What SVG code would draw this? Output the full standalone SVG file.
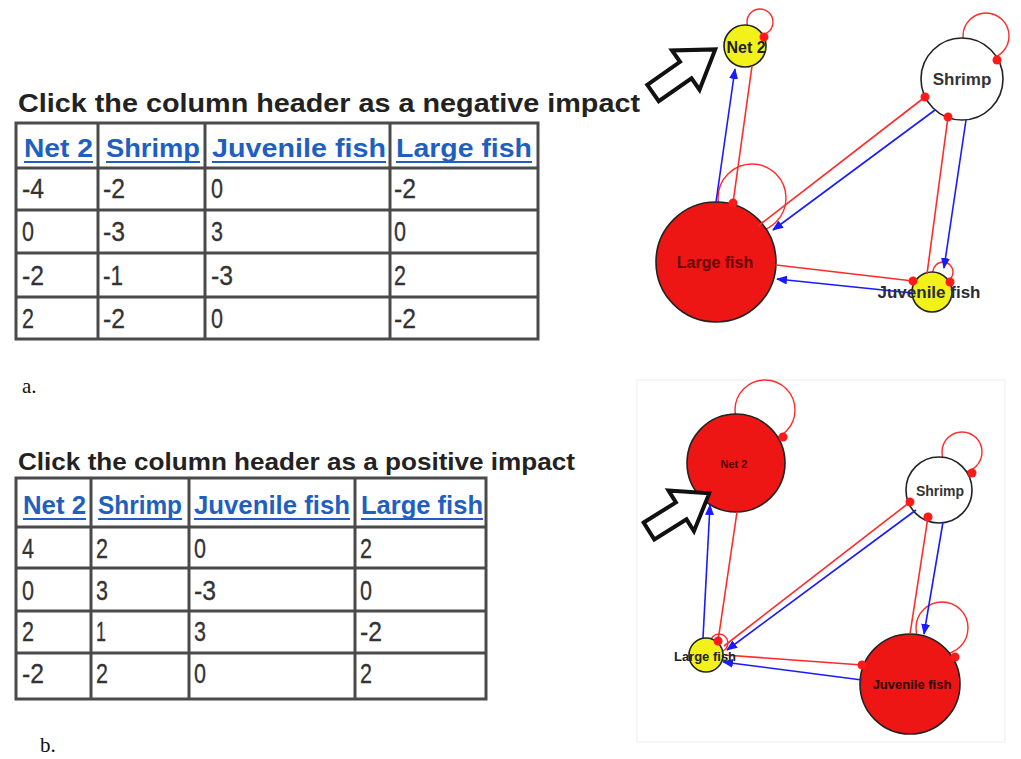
<svg xmlns="http://www.w3.org/2000/svg" width="1021" height="759" viewBox="0 0 1021 759">
<style>
.title{font-family:"Liberation Sans",Arial,sans-serif;font-weight:bold;fill:#222}
.hdr{font-family:"Liberation Sans",Arial,sans-serif;font-weight:bold;fill:#1f5fbf;font-size:25px}
.ul{stroke:#1f5fbf;stroke-width:2}
.cell{font-family:"Liberation Sans",Arial,sans-serif;fill:#333;font-size:27px;stroke:#333;stroke-width:0.3}
.grid{stroke:#4a4a4a;stroke-width:3;fill:none}
.cap{font-family:"Liberation Serif","Times New Roman",serif;font-size:21px;fill:#111}
.node{stroke:#222;stroke-width:1.6}
.loop{fill:none;stroke:#ff2a2a;stroke-width:1.4}
.pos{stroke:#1a1aff;stroke-width:1.6;fill:none;marker-end:url(#arr)}
.neg{stroke:#ff2a2a;stroke-width:1.6;fill:none;marker-end:url(#dot)}
.lbl{font-family:"Liberation Sans",Arial,sans-serif;font-weight:bold;text-anchor:middle;dominant-baseline:central}
.bigarrow{fill:#fff;stroke:#111;stroke-width:4;stroke-linejoin:miter}
.rdot{fill:#ff1a1a}
</style>
<defs>
<marker id="arr" markerUnits="userSpaceOnUse" markerWidth="11" markerHeight="9" refX="10" refY="4.5" orient="auto"><path d="M0,0 L11,4.5 L0,9 z" fill="#1a1aff"/></marker>
<marker id="dot" markerUnits="userSpaceOnUse" markerWidth="10" markerHeight="10" refX="5" refY="5" orient="auto"><circle cx="5" cy="5" r="4.5" fill="#ff1a1a"/></marker>
</defs>
<rect width="1021" height="759" fill="#fff"/>

<!-- Top table -->
<g id="table-a">
<text class="title" x="18" y="112" font-size="26" textLength="622" lengthAdjust="spacingAndGlyphs">Click the column header as a negative impact</text>
<rect class="grid" x="16" y="123" width="522" height="216"/>
<path class="grid" d="M98,123V339 M205,123V339 M390,123V339 M16,168H538 M16,210H538 M16,253H538 M16,297H538"/>
<text class="hdr" x="24" y="157" textLength="69" lengthAdjust="spacingAndGlyphs">Net 2</text>
<text class="hdr" x="106" y="157" textLength="94" lengthAdjust="spacingAndGlyphs">Shrimp</text>
<text class="hdr" x="212" y="157" textLength="174" lengthAdjust="spacingAndGlyphs">Juvenile fish</text>
<text class="hdr" x="396" y="157" textLength="136" lengthAdjust="spacingAndGlyphs">Large fish</text>
<path class="ul" d="M24,162H93 M106,162H200 M212,162H386 M396,162H532"/>
<text class="cell" x="22" y="198" textLength="22" lengthAdjust="spacingAndGlyphs">-4</text><text class="cell" x="103" y="198" textLength="22" lengthAdjust="spacingAndGlyphs">-2</text><text class="cell" x="211" y="198" textLength="12" lengthAdjust="spacingAndGlyphs">0</text><text class="cell" x="394" y="198" textLength="22" lengthAdjust="spacingAndGlyphs">-2</text>
<text class="cell" x="22" y="241" textLength="12" lengthAdjust="spacingAndGlyphs">0</text><text class="cell" x="103" y="241" textLength="22" lengthAdjust="spacingAndGlyphs">-3</text><text class="cell" x="211" y="241" textLength="12" lengthAdjust="spacingAndGlyphs">3</text><text class="cell" x="394" y="241" textLength="12" lengthAdjust="spacingAndGlyphs">0</text>
<text class="cell" x="22" y="285" textLength="22" lengthAdjust="spacingAndGlyphs">-2</text><text class="cell" x="103" y="285" textLength="20" lengthAdjust="spacingAndGlyphs">-1</text><text class="cell" x="211" y="285" textLength="22" lengthAdjust="spacingAndGlyphs">-3</text><text class="cell" x="394" y="285" textLength="12" lengthAdjust="spacingAndGlyphs">2</text>
<text class="cell" x="22" y="328" textLength="12" lengthAdjust="spacingAndGlyphs">2</text><text class="cell" x="103" y="328" textLength="22" lengthAdjust="spacingAndGlyphs">-2</text><text class="cell" x="211" y="328" textLength="12" lengthAdjust="spacingAndGlyphs">0</text><text class="cell" x="394" y="328" textLength="22" lengthAdjust="spacingAndGlyphs">-2</text>
</g>
<text class="cap" x="22" y="393">a.</text>

<!-- Bottom table -->
<g id="table-b">
<text class="title" x="18" y="470" font-size="24" textLength="557" lengthAdjust="spacingAndGlyphs">Click the column header as a positive impact</text>
<rect class="grid" x="16" y="478" width="470" height="221"/>
<path class="grid" d="M91,478V699 M189,478V699 M355,478V699 M16,527H486 M16,568H486 M16,611H486 M16,653H486"/>
<text class="hdr" x="23" y="514" textLength="63" lengthAdjust="spacingAndGlyphs">Net 2</text>
<text class="hdr" x="98" y="514" textLength="84" lengthAdjust="spacingAndGlyphs">Shrimp</text>
<text class="hdr" x="194" y="514" textLength="156" lengthAdjust="spacingAndGlyphs">Juvenile fish</text>
<text class="hdr" x="361" y="514" textLength="122" lengthAdjust="spacingAndGlyphs">Large fish</text>
<path class="ul" d="M23,519H86 M98,519H182 M194,519H350 M361,519H483"/>
<text class="cell" x="22" y="558" textLength="12" lengthAdjust="spacingAndGlyphs">4</text><text class="cell" x="96" y="558" textLength="12" lengthAdjust="spacingAndGlyphs">2</text><text class="cell" x="194" y="558" textLength="12" lengthAdjust="spacingAndGlyphs">0</text><text class="cell" x="360" y="558" textLength="12" lengthAdjust="spacingAndGlyphs">2</text>
<text class="cell" x="22" y="600" textLength="12" lengthAdjust="spacingAndGlyphs">0</text><text class="cell" x="96" y="600" textLength="12" lengthAdjust="spacingAndGlyphs">3</text><text class="cell" x="194" y="600" textLength="22" lengthAdjust="spacingAndGlyphs">-3</text><text class="cell" x="360" y="600" textLength="12" lengthAdjust="spacingAndGlyphs">0</text>
<text class="cell" x="22" y="641" textLength="12" lengthAdjust="spacingAndGlyphs">2</text><text class="cell" x="96" y="641" textLength="10" lengthAdjust="spacingAndGlyphs">1</text><text class="cell" x="194" y="641" textLength="12" lengthAdjust="spacingAndGlyphs">3</text><text class="cell" x="360" y="641" textLength="22" lengthAdjust="spacingAndGlyphs">-2</text>
<text class="cell" x="22" y="683" textLength="22" lengthAdjust="spacingAndGlyphs">-2</text><text class="cell" x="96" y="683" textLength="12" lengthAdjust="spacingAndGlyphs">2</text><text class="cell" x="194" y="683" textLength="12" lengthAdjust="spacingAndGlyphs">0</text><text class="cell" x="360" y="683" textLength="12" lengthAdjust="spacingAndGlyphs">2</text>
</g>
<text class="cap" x="40" y="752">b.</text>

<!-- Top graph -->
<g id="loops-a">
<circle class="loop" cx="760" cy="22" r="13"/>
<circle class="loop" cx="986" cy="36" r="23"/>
<circle class="loop" cx="752" cy="198" r="34"/>
<circle class="loop" cx="943" cy="272" r="10"/>
</g>
<g id="a-net2"><circle class="node" cx="745" cy="46" r="21" fill="#f2f21a"/></g>
<g id="a-shrimp"><circle class="node" cx="962" cy="79" r="41" fill="#fff"/></g>
<g id="a-largefish"><circle class="node" cx="716" cy="262" r="60" fill="#ee1515"/></g>
<g id="a-juvenile"><circle class="node" cx="932" cy="292" r="20" fill="#f2f21a"/></g>
<g id="connectors-a">
<line class="pos" x1="716" y1="202" x2="735" y2="69"/>
<line class="neg" x1="752" y1="66" x2="733" y2="203"/>
<line class="neg" x1="758" y1="226" x2="925" y2="97"/>
<line class="pos" x1="935" y1="110" x2="773" y2="230"/>
<line class="neg" x1="927" y1="274" x2="948" y2="117"/>
<line class="pos" x1="966" y1="120" x2="944" y2="268"/>
<line class="neg" x1="776" y1="265" x2="913" y2="281"/>
<line class="pos" x1="912" y1="293" x2="777" y2="279"/>
<circle class="rdot" cx="764" cy="37" r="4.5"/>
<circle class="rdot" cx="997" cy="60" r="4.5"/>
<circle class="rdot" cx="950" cy="282" r="4.5"/>
</g>
<text class="lbl" x="746" y="47" font-size="16" fill="#222">Net 2</text>
<text class="lbl" x="962" y="79" font-size="17" fill="#333">Shrimp</text>
<text class="lbl" x="715" y="262" font-size="16" fill="#6a0000">Large fish</text>
<text class="lbl" x="929" y="292" font-size="17" fill="#2a2a3a">Juvenile fish</text>
<polygon class="bigarrow" transform="translate(653,93) rotate(-35)" points="0,-10 40,-10 40,-24 76,0 40,24 40,10 0,10"/>

<!-- Bottom graph -->
<rect x="637" y="380" width="368" height="362" fill="none" stroke="#f3f3f3" stroke-width="1.5"/>
<g id="loops-b">
<circle class="loop" cx="765" cy="410" r="30"/>
<circle class="loop" cx="962" cy="452" r="20"/>
<circle class="loop" cx="719" cy="643" r="9"/>
<circle class="loop" cx="942" cy="628" r="26"/>
</g>
<g id="b-net2"><circle class="node" cx="736" cy="463" r="49" fill="#ee1515"/></g>
<g id="b-shrimp"><circle class="node" cx="939" cy="490" r="33" fill="#fff"/></g>
<g id="b-largefish"><circle class="node" cx="706" cy="655" r="17" fill="#f2f21a"/></g>
<g id="b-juvenile"><circle class="node" cx="910" cy="684" r="50" fill="#ee1515"/></g>
<g id="connectors-b">
<line class="pos" x1="703" y1="638" x2="710" y2="505"/>
<line class="neg" x1="737" y1="512" x2="718" y2="641"/>
<line class="neg" x1="724" y1="646" x2="910" y2="502"/>
<line class="pos" x1="916" y1="510" x2="727" y2="650"/>
<line class="neg" x1="910" y1="634" x2="928" y2="517"/>
<line class="pos" x1="943" y1="522" x2="924" y2="634"/>
<line class="neg" x1="725" y1="655" x2="862" y2="665"/>
<line class="pos" x1="862" y1="680" x2="723" y2="662"/>
<circle class="rdot" cx="783" cy="437" r="4.5"/>
<circle class="rdot" cx="972" cy="473" r="4.5"/>
<circle class="rdot" cx="955" cy="657" r="4.5"/>
</g>
<text class="lbl" x="734" y="464" font-size="11" fill="#4a0000">Net 2</text>
<text class="lbl" x="940" y="491" font-size="14" fill="#333">Shrimp</text>
<text class="lbl" x="705" y="656" font-size="13" fill="#222">Large fish</text>
<text class="lbl" x="912" y="684" font-size="13" fill="#2a0000">Juvenile fish</text>
<polygon class="bigarrow" transform="translate(649,531) rotate(-32)" points="0,-10 38,-10 38,-24 71,0 38,24 38,10 0,10"/>
</svg>
